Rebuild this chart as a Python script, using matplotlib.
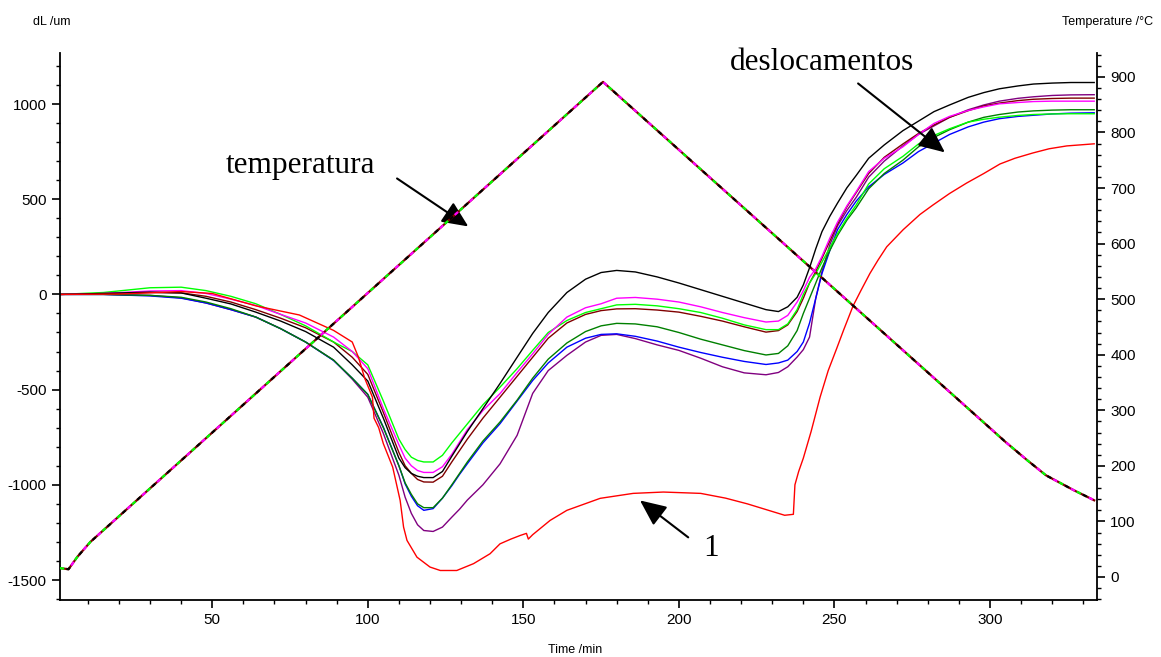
import matplotlib
matplotlib.use("Agg")
import matplotlib.pyplot as plt
from matplotlib.ticker import MultipleLocator

# time grid (min) shared by the seven similar dL curves
time_main = [1, 15, 30, 40, 48, 56, 64, 72, 80, 89, 95, 100, 105, 110, 112, 114, 116, 118, 121,
             124, 127, 129.5, 132, 137, 142.5, 148, 153, 158, 164, 170, 175, 180, 186, 193, 200,
             207, 214, 221, 228, 232, 235, 238, 240, 242, 244, 246, 248.5, 251, 254, 257, 261,
             266, 272, 277, 282, 287, 293, 298, 303, 309, 314, 320, 326, 333.5]

dl_black = [0, 5, 12, 8, -20, -50, -93, -140, -195, -277, -370, -455, -650, -860, -910, -940, -955,
            -962, -962, -930, -850, -785, -720, -600, -468, -330, -205, -95, 10, 80, 115, 126,
            118, 92, 60, 25, -10, -45, -80, -90, -65, -15, 50, 140, 240, 330, 410, 480, 560, 625,
            715, 785, 860, 910, 960, 995, 1035, 1060, 1080, 1095, 1105, 1110, 1113, 1113]
dl_magenta = [0, 5, 18, 20, 5, -25, -58, -105, -150, -224, -300, -390, -600, -790, -860, -900,
              -925, -935, -935, -905, -840, -775, -710, -610, -521, -410, -312, -210, -119, -70,
              -49, -20, -16, -25, -40, -65, -95, -122, -145, -140, -110, -40, 20, 90, 135, 200,
              295, 380, 465, 540, 645, 715, 775, 840, 898, 935, 966, 985, 1001, 1008, 1013, 1015,
              1015, 1015]
dl_lime = [0, 10, 35, 38, 20, -10, -49, -105, -165, -250, -300, -370, -560, -760, -815, -855, -872,
           -880, -880, -845, -780, -730, -680, -580, -487, -390, -294, -200, -137, -95, -75, -55,
           -52, -60, -75, -95, -125, -160, -185, -185, -155, -80, 0, 60, 110, 170, 245, 320, 400,
           470, 580, 660, 725, 790, 835, 870, 905, 920, 931, 940, 945, 948, 949, 949]
dl_brown = [0, 5, 10, 8, -10, -40, -80, -125, -175, -250, -330, -420, -620, -830, -900, -940, -972,
            -985, -986, -955, -880, -820, -760, -650, -540, -430, -330, -230, -150, -105, -85, -76,
            -75, -82, -93, -115, -140, -170, -198, -190, -160, -90, -20, 60, 120, 190, 280, 370,
            460, 535, 635, 720, 790, 845, 890, 930, 965, 990, 1005, 1018, 1025, 1029, 1031, 1031]
dl_darkgreen = [0, 0, -5, -15, -40, -75, -119, -180, -250, -345, -440, -525, -700, -900, -990,
                -1050, -1100, -1120, -1120, -1070, -1000, -940, -880, -770, -670, -555, -440, -340,
                -255, -195, -165, -152, -155, -170, -200, -235, -265, -295, -318, -310, -270,
                -190, -100, -20, 60, 140, 230, 310, 390, 455, 555, 635, 705, 775, 825, 865, 905,
                930, 945, 958, 964, 968, 970, 970]
dl_blue = [0, 0, -8, -20, -45, -80, -119, -180, -250, -347, -440, -525, -697, -900, -995, -1060,
           -1110, -1134, -1125, -1070, -1005, -945, -889, -780, -679, -560, -452, -360, -277, -230,
           -210, -207, -220, -245, -277, -305, -330, -352, -368, -360, -345, -300, -250, -150, -20,
           110, 230, 340, 420, 490, 565, 630, 690, 750, 795, 840, 880, 905, 923, 935, 941, 948,
           952, 954]
dl_purple = [0, 0, -5, -18, -45, -80, -119, -180, -250, -345, -445, -540, -730, -950, -1065, -1150,
             -1210, -1240, -1245, -1222, -1170, -1128, -1080, -1000, -890, -740, -520, -400, -320,
             -250, -215, -210, -232, -265, -294, -335, -380, -412, -422, -410, -380, -329, -290,
             -224, -20, 120, 260, 360, 441, 510, 616, 700, 780, 840, 885, 930, 970, 995, 1015,
             1030, 1038, 1045, 1048, 1049]

# sample 1 (red) has its own time points
time_red = [1, 20, 40, 50, 64, 78, 89, 95, 97, 99, 101.5, 102, 103.5, 105, 108, 110.4, 111.5,
            112.6, 115.8, 120, 123.3, 128.6, 134, 139.3, 142.5, 146, 149, 151, 151.6, 153, 158.6,
            164, 174.7, 185.3, 195, 207, 215, 222, 228, 234, 236.8, 237.3, 238.5, 240, 242.5,
            245.4, 248, 250.7, 253, 256, 258.5, 261.4, 264, 266.8, 272.1, 277.5, 281.7, 287,
            292.5, 298, 303.2, 308, 313.8, 319, 324.7, 333.5]
dl_red = [0, 2, 15, 5, -60, -108, -189, -250, -330, -440, -540, -650, -700, -784, -907, -1082,
          -1222, -1292, -1380, -1432, -1450, -1450, -1414, -1362, -1310, -1285, -1266, -1255,
          -1285, -1262, -1187, -1134, -1071, -1045, -1038, -1045, -1070, -1100, -1130, -1160,
          -1155, -1000, -930, -860, -720, -539, -400, -285, -185, -60, 20, 110, 180, 250, 340,
          420, 470, 530, 585, 635, 685, 715, 743, 765, 780, 791]

# furnace temperature programme
time_temp = [1, 3.8, 6.6, 10.8, 175.6, 305, 312, 318, 323, 327, 331, 333.5]
temp_c = [16, 14, 36, 63, 891, 243, 210, 183, 168, 156, 145, 138]

curves = [
    (dl_purple, "#800080"), (dl_blue, "#0000ff"), (dl_darkgreen, "#008000"),
    (dl_brown, "#800000"), (dl_lime, "#00ff00"), (dl_magenta, "#ff00ff"), (dl_black, "#000000"),
]

plt.rcParams["font.family"] = ["Liberation Sans", "DejaVu Sans"]
plt.rcParams["axes.unicode_minus"] = False

fig = plt.figure(figsize=(11.61, 6.57), dpi=100)
ax = fig.add_axes([60 / 1161, 57 / 657, 1037 / 1161, 547 / 657])
ax2 = ax.twinx()

for vals, col in curves:
    ax.plot(time_main, vals, color=col, lw=1.0)
ax.plot(time_red, dl_red, color="#ff0000", lw=1.0)

# the eight identical temperature traces overlap, so show them as one mixed dashed line
ax2.plot(time_temp, temp_c, color="#800000", lw=1.6)
for col, off in [("#00ff00", 0), ("#ff00ff", 3), ("#000000", 6)]:
    ax2.plot(time_temp, temp_c, color=col, lw=1.6, linestyle=(off, (2, 7)))

ax.set_xlim(1.06, 334.4)
ax.set_ylim(-1605, 1268)
ax2.set_ylim(-41.4, 943)

ax.xaxis.set_major_locator(MultipleLocator(50))
ax.xaxis.set_minor_locator(MultipleLocator(10))
ax.yaxis.set_major_locator(MultipleLocator(500))
ax.yaxis.set_minor_locator(MultipleLocator(100))
ax2.yaxis.set_major_locator(MultipleLocator(100))
ax2.yaxis.set_minor_locator(MultipleLocator(20))

for a in (ax, ax2):
    a.spines["top"].set_visible(False)
    a.tick_params(which="major", length=6, width=1.2, labelsize=11, direction="out")
    a.tick_params(which="minor", length=3, width=1.0, direction="out")
    for s in a.spines.values():
        s.set_linewidth(1.3)
ax.spines["right"].set_visible(False)
ax2.spines["left"].set_visible(False)
ax2.spines["bottom"].set_visible(False)

fig.text(52 / 1161, 1 - 22 / 657, "dL /um", fontsize=9, ha="center", va="center")
fig.text(1108 / 1161, 1 - 22 / 657, "Temperature /°C", fontsize=9, ha="center", va="center")
fig.text(575 / 1161, 1 - 650 / 657, "Time /min", fontsize=9, ha="center", va="center")

serif = ["Liberation Serif", "DejaVu Serif"]
arrow = dict(arrowstyle="-|>,head_length=0.8,head_width=0.36", color="black", lw=1.5,
             mutation_scale=20, shrinkA=0, shrinkB=0)
ax.annotate("", xy=(132.3, 357), xytext=(109.4, 609), arrowprops=arrow)
ax.text(78.3, 677, "temperatura", family=serif, fontsize=22.5, ha="center", va="center")
ax.annotate("", xy=(285.5, 746), xytext=(257.6, 1108), arrowprops=arrow)
ax.text(246, 1218, "deslocamentos", family=serif, fontsize=22.5, ha="center", va="center")
ax.annotate("", xy=(187.5, -1082), xytext=(203, -1276), arrowprops=arrow)
ax.text(210.4, -1334, "1", family=serif, fontsize=22.5, ha="center", va="center")

fig.savefig("out.png", dpi=100, facecolor="white")
